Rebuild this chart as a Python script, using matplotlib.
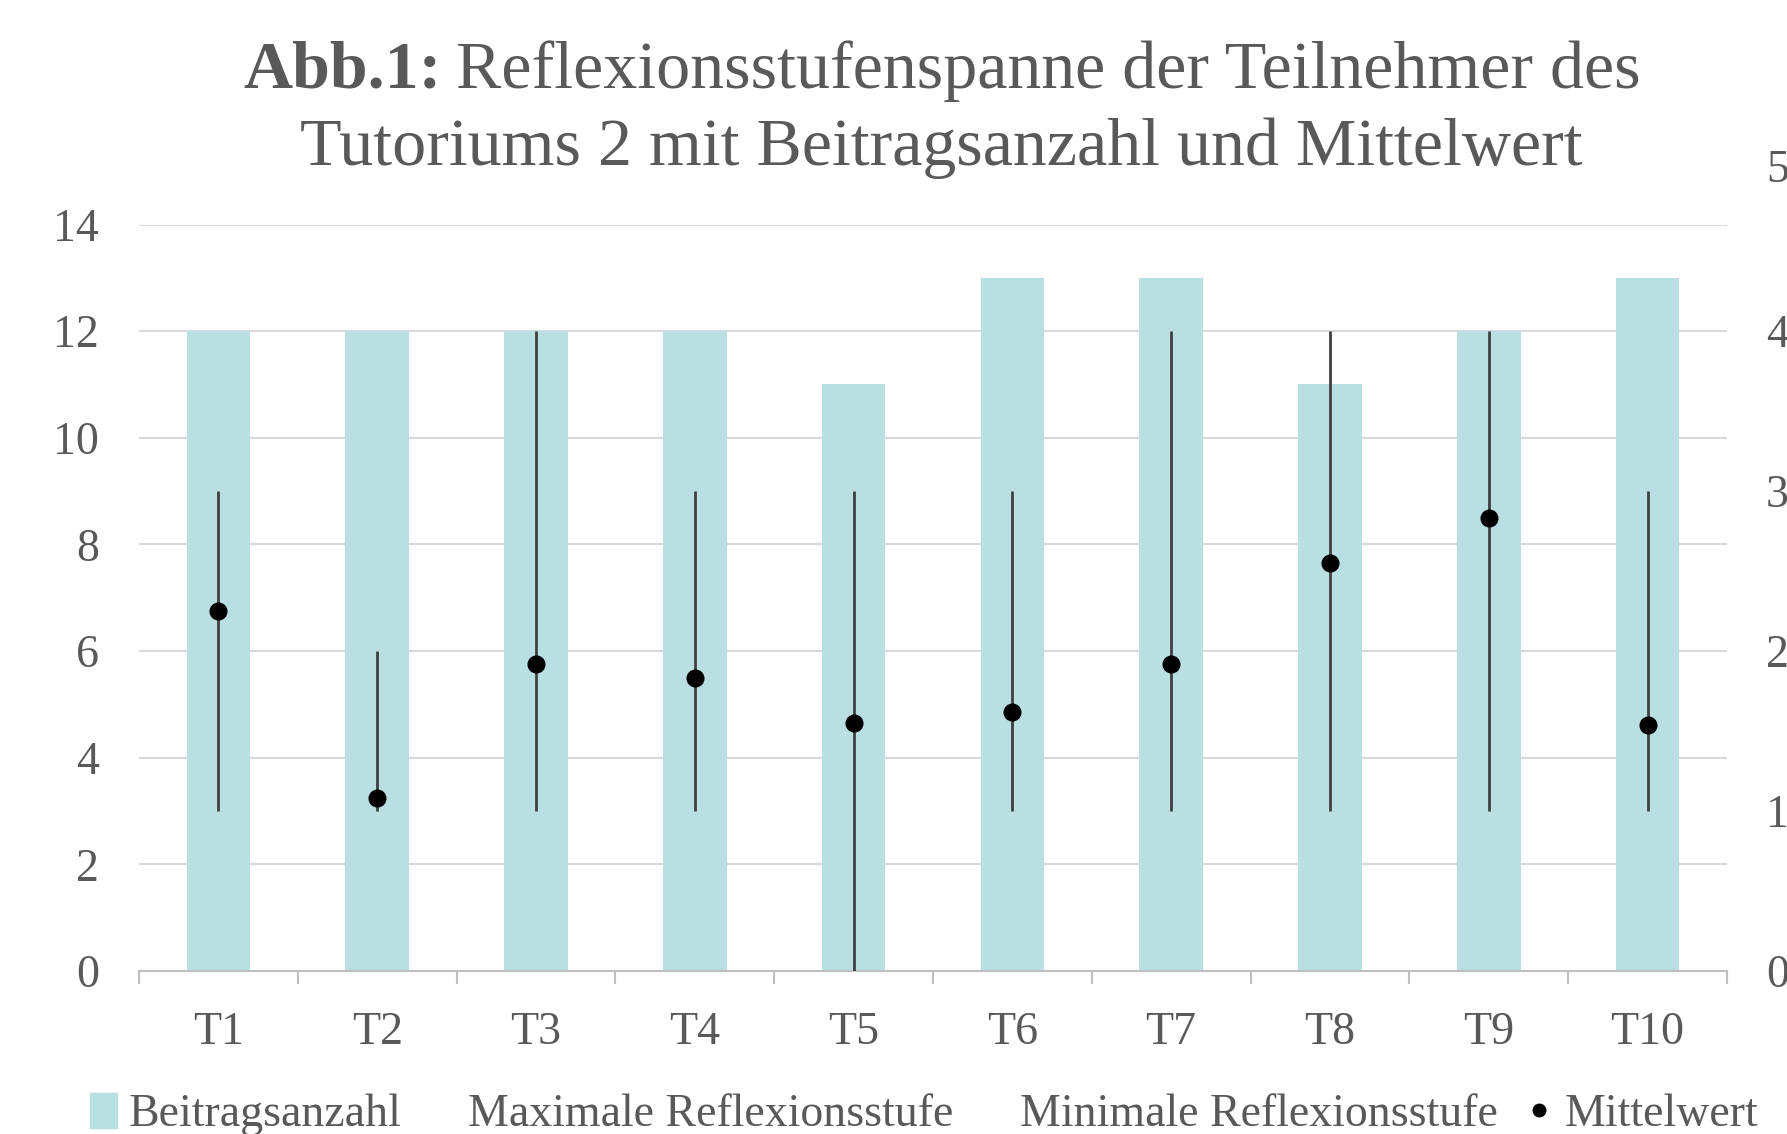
import numpy as np
import matplotlib.pyplot as plt
from matplotlib.patches import Patch
from matplotlib.lines import Line2D
import matplotlib.transforms as mtransforms

plt.rcParams['font.family'] = ['Liberation Serif', 'DejaVu Serif']

# data
teilnehmer = ['T1', 'T2', 'T3', 'T4', 'T5', 'T6', 'T7', 'T8', 'T9', 'T10']
beitragsanzahl = [12, 12, 12, 12, 11, 13, 13, 11, 12, 13]
max_stufe = [3, 2, 4, 3, 3, 3, 4, 4, 4, 3]
min_stufe = [1, 1, 1, 1, 0, 1, 1, 1, 1, 1]
mittelwert = [2.25, 1.08, 1.92, 1.83, 1.55, 1.62, 1.92, 2.55, 2.83, 1.54]

grey = '#595959'
fs = 33

fig = plt.figure(figsize=(17.87, 11.34), dpi=100)
ax = fig.add_axes([0.0778, 0.1437, 0.9664 - 0.0778, 0.6583])
x = np.arange(len(teilnehmer))

ax.bar(x, beitragsanzahl, width=0.4, color='#badfe2', zorder=2)
ax.set_xlim(-0.5, len(teilnehmer) - 0.5)
ax.set_ylim(0, 14)
ax.set_yticks(range(0, 15, 2))
ax.grid(axis='y', color='#d9d9d9', linewidth=1.5, zorder=0)
ax.set_axisbelow(True)
for s in ['top', 'right', 'left']:
    ax.spines[s].set_visible(False)
ax.spines['bottom'].set_color('#bfbfbf')
ax.spines['bottom'].set_linewidth(1.5)
ax.set_xticks(x)
ax.set_xticklabels(teilnehmer)
ax.set_xticks(np.arange(-0.5, len(teilnehmer)), minor=True)
ax.tick_params(axis='x', which='major', length=0, pad=29, labelsize=fs, labelcolor=grey)
ax.tick_params(axis='x', which='minor', length=9, width=1.5, color='#bfbfbf')
ax.tick_params(axis='y', length=0, pad=29, labelsize=fs, labelcolor=grey)

# secondary axis: reflection levels
ax2 = ax.twinx()
ax2.set_ylim(0, 14 / 3)
ax2.set_yticks(range(0, 5))
for s in ax2.spines.values():
    s.set_visible(False)
ax2.tick_params(axis='y', length=0, pad=28, labelsize=fs, labelcolor=grey)
ax2.vlines(x, min_stufe, max_stufe, color='#404040', linewidth=2, zorder=3)
ax2.plot(x, mittelwert, 'o', color='black', markersize=12, zorder=4)
off = mtransforms.offset_copy(ax2.get_yaxis_transform(), fig=fig, x=28, y=0, units='points')
ax2.text(1.0, 5, '5', transform=off, ha='left', va='center', fontsize=fs, color=grey, clip_on=False)

# legend
handles = [Patch(color='#badfe2'),
           Line2D([], [], linestyle='none'),
           Line2D([], [], linestyle='none'),
           Line2D([], [], marker='o', linestyle='none', color='black', markersize=9)]
labels = ['Beitragsanzahl', 'Maximale Reflexionsstufe', 'Minimale Reflexionsstufe', 'Mittelwert']
fig.legend(handles, labels, loc='center', bbox_to_anchor=(0.517, 0.017), ncol=4, frameon=False,
           fontsize=fs, labelcolor=grey, handlelength=0.6, handleheight=0.8,
           handletextpad=0.25, columnspacing=0.6)

# title with bold prefix
fig.canvas.draw()
r = fig.canvas.get_renderer()
tfs = 49
cx = 0.527
tb = fig.text(0, 0.937, 'Abb.1:', fontsize=tfs, fontweight='bold', color=grey, va='center')
tr = fig.text(0, 0.937, 'Reflexionsstufenspanne der Teilnehmer des', fontsize=tfs, color=grey, va='center')
wb = tb.get_window_extent(r).width / fig.bbox.width
wr = tr.get_window_extent(r).width / fig.bbox.width
gap = 0.008
x0 = cx - (wb + gap + wr) / 2
tb.set_x(x0)
tr.set_x(x0 + wb + gap)
fig.text(cx, 0.869, 'Tutoriums 2 mit Beitragsanzahl und Mittelwert', fontsize=tfs, color=grey,
         ha='center', va='center')

fig.savefig('out.png', dpi=100)
